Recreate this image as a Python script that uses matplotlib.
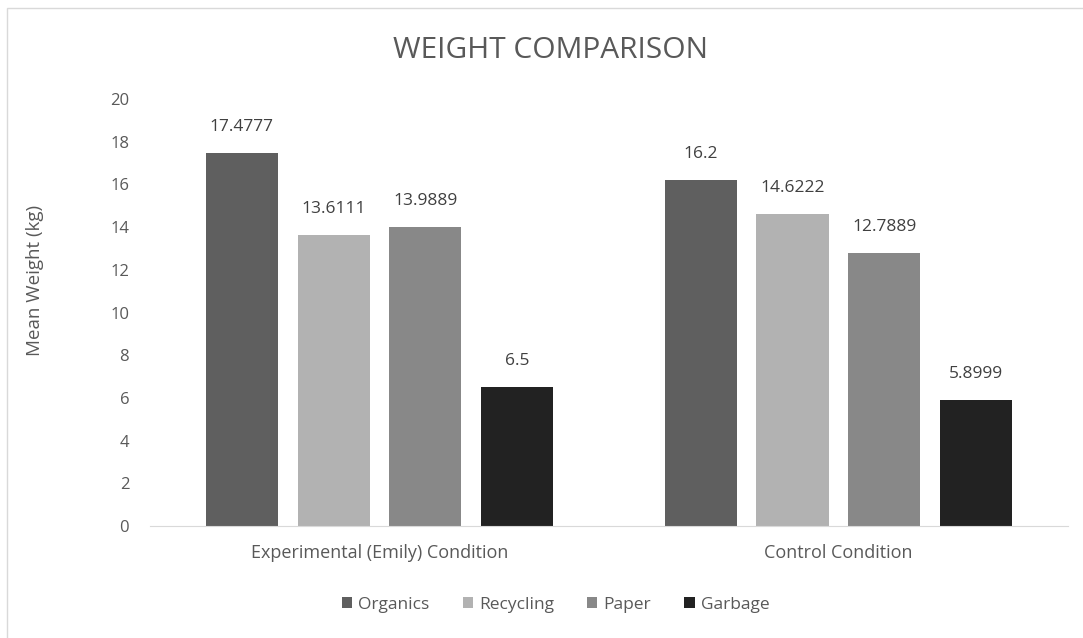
import matplotlib
matplotlib.use('Agg')
import matplotlib.pyplot as plt
import numpy as np

conditions = ['Experimental (Emily) Condition', 'Control Condition']
organics = [17.4777, 16.2]
recycling = [13.6111, 14.6222]
paper = [13.9889, 12.7889]
garbage = [6.5, 5.8999]
value_labels = [['17.4777', '16.2'], ['13.6111', '14.6222'],
                ['13.9889', '12.7889'], ['6.5', '5.8999']]

series = [('Organics', organics, '#5f5f5f'),
          ('Recycling', recycling, '#b2b2b2'),
          ('Paper', paper, '#888888'),
          ('Garbage', garbage, '#222222')]

plt.rcParams['font.family'] = ['Open Sans', 'DejaVu Sans']
txt = '#595959'

fig = plt.figure(figsize=(10.83, 6.38), dpi=100)
ax = fig.add_axes([0.1385, 0.1755, 0.8475, 0.6693])

x = np.arange(len(conditions))
width = 0.157
offsets = [-0.3, -0.1, 0.1, 0.3]

for (name, vals, col), off, labs in zip(series, offsets, value_labels):
    bars = ax.bar(x + off, vals, width, color=col, label=name)
    for b, lab in zip(bars, labs):
        ax.text(b.get_x() + b.get_width() / 2, b.get_height() + 1.22, lab,
                ha='center', va='center', fontsize=12.5, color='#404040')

ax.set_xlim(-0.5, 1.5)
ax.set_ylim(0, 20)
ax.set_yticks(range(0, 21, 2))
ax.set_xticks(x)
ax.set_xticklabels(conditions, fontsize=13)
ax.tick_params(axis='both', length=0, colors=txt)
ax.tick_params(axis='y', pad=15, labelsize=12)
ax.tick_params(axis='x', pad=13)
for s in ['top', 'right', 'left']:
    ax.spines[s].set_visible(False)
ax.spines['bottom'].set_color('#d9d9d9')
ax.set_ylabel('Mean Weight (kg)', fontsize=13.5, color=txt)
ax.yaxis.set_label_coords(-0.115, 0.574)

fig.text(0.508, 0.921, 'WEIGHT COMPARISON', ha='center', va='center',
         fontsize=21.5, color=txt)

fig.legend(loc='center', bbox_to_anchor=(0.513, 0.052), ncol=4, frameon=False,
           fontsize=12.5, handlelength=0.6, handleheight=0.6, handletextpad=0.35,
           columnspacing=1.9, labelcolor=txt)

fig.patches.append(plt.Rectangle((0.0065, -0.1), 1.2, 1.087, transform=fig.transFigure,
                                 fill=False, edgecolor='#d9d9d9', linewidth=1))

fig.savefig('out.png', dpi=100)
